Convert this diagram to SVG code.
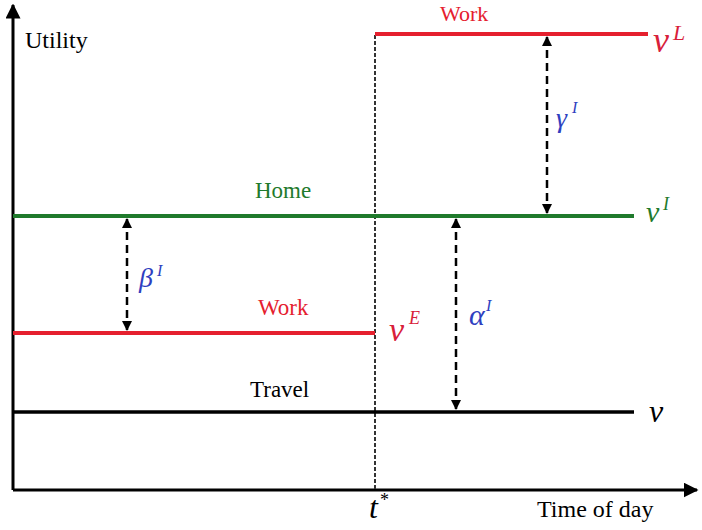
<svg xmlns="http://www.w3.org/2000/svg" width="702" height="530" viewBox="0 0 702 530">
<style>
text{font-family:"Liberation Serif","Times New Roman","DejaVu Serif",serif}
.lbl{font-size:23px}
.math{font-style:italic}
.axis{stroke:#000;stroke-width:3;fill:none}
.red{stroke:#e5202e;stroke-width:4;fill:none}
.green{stroke:#1f7a2c;stroke-width:4;fill:none}
.black{stroke:#000;stroke-width:3.5;fill:none}
.dim{stroke:#000;stroke-width:2.5;stroke-dasharray:8,5;fill:none}
.tline{stroke:#333;stroke-width:2;stroke-dasharray:4,2;fill:none}
.r{fill:#d8203a}.g{fill:#1f7a2c}.b{fill:#2f3fc0}
</style>
<defs>
<marker id="ah" viewBox="0 0 10 10" refX="9" refY="5" markerWidth="4" markerHeight="4" orient="auto-start-reverse"><path d="M0,0L10,5L0,10z" fill="#000"/></marker>
<marker id="axh" viewBox="0 0 10 10" refX="9" refY="5" markerWidth="5" markerHeight="5" orient="auto"><path d="M0,0L10,5L0,10z" fill="#000"/></marker>
</defs>
<rect width="702" height="530" fill="#fff"/>
<g id="axes">
<line class="axis" x1="13" y1="490" x2="13" y2="5" marker-end="url(#axh)"/>
<line class="axis" x1="13" y1="490" x2="697" y2="490" marker-end="url(#axh)"/>
<text x="25" y="48" font-size="24">Utility</text>
<text x="537" y="517" font-size="24">Time of day</text>
</g>
<g id="connectors">
<line class="tline" x1="375" y1="35" x2="375" y2="490"/>
<line class="dim" x1="547" y1="37" x2="547" y2="213" marker-start="url(#ah)" marker-end="url(#ah)"/>
<line class="dim" x1="127" y1="219" x2="127" y2="330" marker-start="url(#ah)" marker-end="url(#ah)"/>
<line class="dim" x1="456" y1="219" x2="456" y2="409" marker-start="url(#ah)" marker-end="url(#ah)"/>
</g>
<g id="work-late">
<line class="red" x1="375" y1="34" x2="648" y2="34"/>
<text x="440" y="21" font-size="22" fill="#e5202e">Work</text>
<text class="math r" x="653" y="52" font-size="36">v</text>
<text class="math r" x="673" y="40" font-size="22">L</text>
</g>
<g id="home">
<line class="green" x1="13" y1="216" x2="634" y2="216"/>
<text class="lbl g" x="255" y="198">Home</text>
<text class="math g" x="646" y="222" font-size="30">v</text>
<text class="math g" x="663" y="210" font-size="18">I</text>
</g>
<g id="work-early">
<line class="red" x1="13" y1="333" x2="375" y2="333"/>
<text class="lbl" x="258" y="315" fill="#e5202e">Work</text>
<text class="math r" x="389" y="341" font-size="34">v</text>
<text class="math r" x="409" y="324" font-size="18">E</text>
</g>
<g id="travel">
<line class="black" x1="13" y1="412" x2="634" y2="412"/>
<text class="lbl" x="250" y="397">Travel</text>
<text class="math" x="649" y="422" font-size="32">v</text>
</g>
<g id="labels">
<text class="math b" x="556" y="127" font-size="28">γ</text>
<text class="math b" x="572" y="113" font-size="16">I</text>
<text class="math b" x="139" y="287" font-size="28">β</text>
<text class="math b" x="157" y="276" font-size="16">I</text>
<text class="math b" x="469" y="325" font-size="30">α</text>
<text class="math b" x="486" y="311" font-size="16">I</text>
<text class="math" x="369" y="518" font-size="32">t</text>
<text x="380" y="506" font-size="18">*</text>
</g>
</svg>
